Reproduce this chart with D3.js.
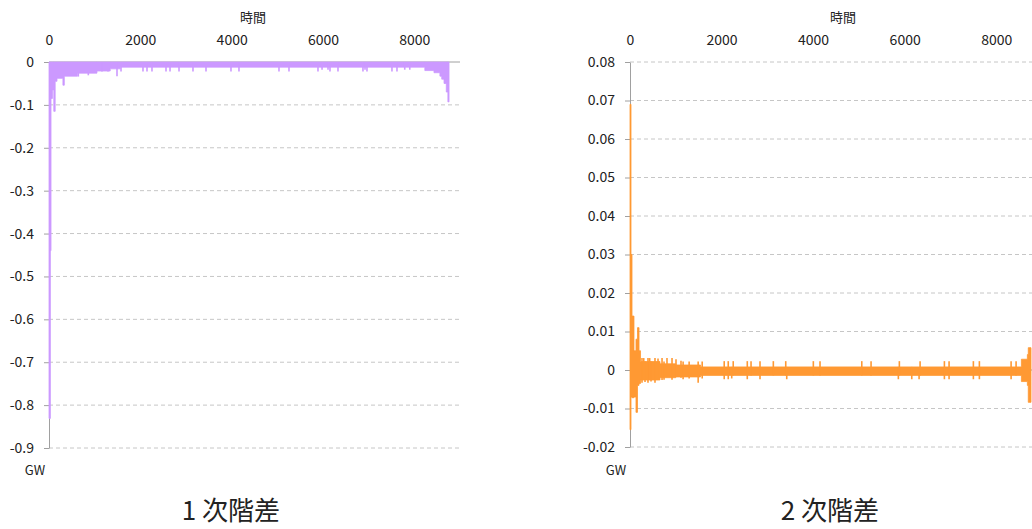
<!DOCTYPE html>
<html>
<head>
<meta charset="utf-8">
<script src="https://cdn.jsdelivr.net/npm/d3@7/dist/d3.min.js"></script>
<style>
  html, body { margin: 0; padding: 0; background: #ffffff; }
  svg { display: block; }
  text { font-family: "Noto Sans CJK JP", "Noto Sans", sans-serif; fill: #222; }
</style>
</head>
<body>
<svg id="chart" width="1032" height="529"></svg>
<script>
// ---- data -------------------------------------------------------------
const xTicks = [0, 2000, 4000, 6000, 8000];
const yTicks1 = [0, -0.1, -0.2, -0.3, -0.4, -0.5, -0.6, -0.7, -0.8, -0.9];
const yTicks2 = [0.08, 0.07, 0.06, 0.05, 0.04, 0.03, 0.02, 0.01, 0, -0.01, -0.02];

// 1st difference: envelope of the hourly series (start hour, min, max)
const env1Hour = [0, 30, 44, 75, 105, 135, 175, 305, 335, 620, 1050, 1340, 1560, 8230, 8430, 8560, 8600, 8650, 8700, 8735, 8760];
const env1Low  = [-0.831, -0.44, -0.085, -0.065, -0.115, -0.045, -0.038, -0.054, -0.033, -0.026, -0.021, -0.016, -0.012, -0.02, -0.025, -0.033, -0.04, -0.05, -0.07, -0.093, -0.093];
const env1High = [0, 0, 0, 0, 0, 0, 0, 0, 0, 0, 0, 0, 0, 0, 0, 0, 0, 0, 0, 0, 0];

// 1st difference: isolated dips
const spike1Hour = [642, 861, 1160, 1292, 1489, 1577, 2058, 2146, 2255, 2562, 2650, 2847, 3153, 3438, 3985, 4160, 5036, 5255, 5890, 5979, 6110, 6153, 6328, 6875, 6920, 6963, 7510, 7620, 7790, 7900];
const spike1Low  = [-0.034, -0.031, -0.022, -0.022, -0.033, -0.022, -0.022, -0.022, -0.022, -0.022, -0.022, -0.022, -0.022, -0.022, -0.022, -0.022, -0.022, -0.022, -0.022, -0.018, -0.018, -0.022, -0.022, -0.022, -0.018, -0.022, -0.022, -0.022, -0.018, -0.018];

// 2nd difference: envelope (start hour, min, max)
const env2Hour = [0, 22, 44, 87, 131, 164, 197, 230, 655, 1000, 1540, 8550, 8680, 8700, 8760];
const env2Low  = [-0.0155, -0.007, -0.0072, -0.007, -0.011, -0.004, -0.0035, -0.0026, -0.002, -0.0018, -0.0014, -0.003, -0.004, -0.0084, -0.0084];
const env2High = [0.069, 0.03, 0.014, 0.005, 0.008, 0.011, 0.005, 0.0022, 0.0016, 0.0013, 0.0008, 0.0028, 0.004, 0.0058, 0.0058];

// 2nd difference: isolated spikes
const spike2Hour = [262, 300, 328, 393, 430, 459, 546, 612, 700, 743, 808, 918, 1005, 1114, 1160, 1292, 1489, 1577, 2058, 2146, 2222, 2255, 2562, 2644, 2840, 3131, 3402, 3424, 4005, 4151, 5063, 5266, 5862, 5884, 6155, 6315, 6337, 6868, 6970, 7501, 7632, 8325, 8434];
const spike2Low  = [-0.0033, -0.0026, -0.0031, -0.0033, -0.0026, -0.0030, -0.0033, -0.0026, -0.0026, -0.0025, -0.0018, -0.0025, -0.0018, -0.0020, -0.0024, -0.0022, -0.0033, -0.0022, -0.0024, -0.0024, -0.0022, -0.0014, -0.0024, -0.0014, -0.0024, -0.0014, -0.0014, -0.0024, -0.0014, -0.0014, -0.0014, -0.0014, -0.0024, -0.0014, -0.0024, -0.0024, -0.0014, -0.0024, -0.0024, -0.0024, -0.0024, -0.0024, -0.0014];
const spike2High = [0.0031, 0.0031, 0.0022, 0.0031, 0.0031, 0.0022, 0.0031, 0.0030, 0.0031, 0.0022, 0.0031, 0.0031, 0.0028, 0.0024, 0.0022, 0.0022, 0.0022, 0.0022, 0.0023, 0.0023, 0.0008, 0.0023, 0.0023, 0.0023, 0.0023, 0.0023, 0.0023, 0.0008, 0.0023, 0.0023, 0.0023, 0.0023, 0.0008, 0.0023, 0.0008, 0.0008, 0.0023, 0.0023, 0.0023, 0.0023, 0.0023, 0.0023, 0.0023];

// ---- drawing ----------------------------------------------------------
const svg = d3.select("#chart");

function panel(opts) {
  const x = d3.scaleLinear().domain([0, 9000]).range([opts.left, opts.right]);
  const y = d3.scaleLinear().domain(opts.yDomain).range([opts.top, opts.bottom]);
  const g = svg.append("g");

  // dashed gridlines
  g.append("g").selectAll("line")
    .data(opts.yTicks.filter(d => d !== 0))
    .join("line")
    .attr("x1", opts.left).attr("x2", opts.right)
    .attr("y1", d => y(d)).attr("y2", d => y(d))
    .attr("stroke", "#c6c6c6").attr("stroke-width", 1)
    .attr("stroke-dasharray", "4,3");

  // horizontal axis line at zero
  g.append("line")
    .attr("x1", opts.left).attr("x2", opts.right)
    .attr("y1", y(0)).attr("y2", y(0))
    .attr("stroke", "#a0a0a0").attr("stroke-width", 1);

  // vertical axis with tick labels
  const yAxis = d3.axisLeft(y).tickValues(opts.yTicks).tickSize(5).tickSizeOuter(0).tickPadding(10)
    .tickFormat(d => d === 0 ? "0" : String(+d.toFixed(2)));
  const ya = g.append("g").attr("transform", `translate(${opts.left},0)`).call(yAxis);
  ya.select(".domain").attr("stroke", "#a0a0a0");
  ya.selectAll(".tick line").attr("stroke", "#a0a0a0");
  ya.selectAll("text").attr("font-size", 14).attr("fill", "#222")
    .style("font-family", "'Noto Sans CJK JP', sans-serif");

  // time labels along the top
  const xAxis = d3.axisTop(x).tickValues(xTicks).tickSize(0).tickPadding(17).tickFormat(d3.format("d"));
  const xa = g.append("g").attr("transform", `translate(0,${opts.top})`).call(xAxis);
  xa.select(".domain").remove();
  xa.selectAll("text").attr("font-size", 14).attr("fill", "#222")
    .style("font-family", "'Noto Sans CJK JP', sans-serif");

  // series envelope
  const pts = opts.envHour.map((h, i) => ({ h, lo: opts.envLow[i], hi: opts.envHigh[i] }));
  const area = d3.area()
    .x(d => x(d.h)).y0(d => y(d.lo)).y1(d => y(d.hi))
    .curve(d3.curveStepAfter);
  g.append("path").datum(pts)
    .attr("d", area)
    .attr("fill", opts.color)
    .attr("stroke", opts.color).attr("stroke-width", 0.8).attr("stroke-linejoin", "miter");

  // isolated spikes
  const sp = opts.spikeHour.map((h, i) => ({ h, lo: opts.spikeLow[i], hi: opts.spikeHigh[i] }));
  g.append("g").selectAll("line")
    .data(sp)
    .join("line")
    .attr("x1", d => x(d.h)).attr("x2", d => x(d.h))
    .attr("y1", d => y(d.hi)).attr("y2", d => y(d.lo))
    .attr("stroke", opts.color).attr("stroke-width", 1.6);

  // axis titles
  g.append("text").attr("x", opts.timeX).attr("y", 22)
    .attr("text-anchor", "middle").attr("font-size", 13).text("時間");
  g.append("text").attr("x", opts.unitX).attr("y", 475)
    .attr("text-anchor", "middle").attr("font-size", 13).text("GW");
  g.append("text").attr("x", opts.captionX).attr("y", 520)
    .attr("text-anchor", "middle").attr("font-size", 26).text(opts.caption);
}

panel({
  left: 49, right: 460, top: 62, bottom: 448,
  yDomain: [0, -0.9], yTicks: yTicks1,
  envHour: env1Hour, envLow: env1Low, envHigh: env1High,
  spikeHour: spike1Hour, spikeLow: spike1Low, spikeHigh: spike1Hour.map(() => 0),
  color: "#cc99ff",
  timeX: 253, unitX: 35, captionX: 231, caption: "1 次階差"
});

panel({
  left: 630, right: 1042, top: 62, bottom: 447,
  yDomain: [0.08, -0.02], yTicks: yTicks2,
  envHour: env2Hour, envLow: env2Low, envHigh: env2High,
  spikeHour: spike2Hour, spikeLow: spike2Low, spikeHigh: spike2High,
  color: "#ff9933",
  timeX: 843, unitX: 616, captionX: 830, caption: "2 次階差"
});
</script>
</body>
</html>
